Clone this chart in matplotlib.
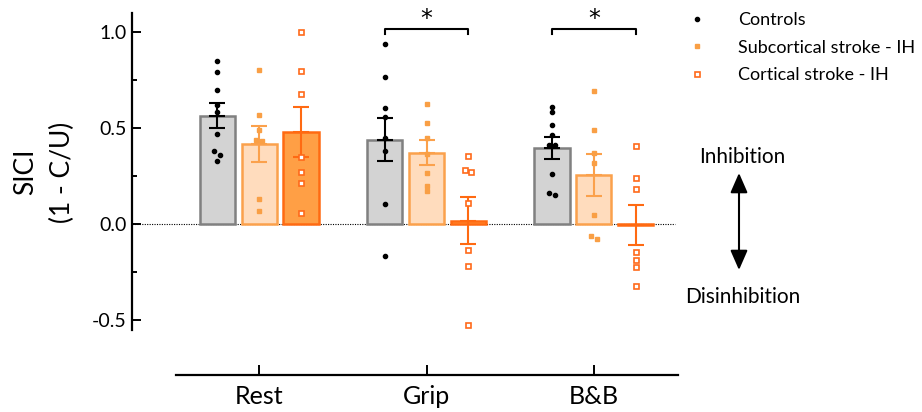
import numpy as np
import matplotlib
matplotlib.use("Agg")
import matplotlib.pyplot as plt
from matplotlib.lines import Line2D
from matplotlib.ticker import FixedLocator

plt.rcParams['font.family'] = ['Lato', 'DejaVu Sans']

conditions = ["Rest", "Grip", "B&B"]
groups = ["Controls", "Subcortical stroke - IH", "Cortical stroke - IH"]

means = {
    "Controls": [0.564, 0.439, 0.397],
    "Subcortical stroke - IH": [0.417, 0.372, 0.255],
    "Cortical stroke - IH": [0.479, 0.017, -0.004],
}
sems = {
    "Controls": [0.064, 0.111, 0.057],
    "Subcortical stroke - IH": [0.096, 0.065, 0.110],
    "Cortical stroke - IH": [0.130, 0.122, 0.105],
}
points = {
    "Controls": [
        [0.849, 0.792, 0.700, 0.620, 0.583, 0.470, 0.379, 0.359, 0.327],
        [0.936, 0.766, 0.606, 0.559, 0.446, 0.379, 0.104, -0.167],
        [0.608, 0.582, 0.516, 0.465, 0.410, 0.410, 0.260, 0.161, 0.153],
    ],
    "Subcortical stroke - IH": [
        [0.804, 0.568, 0.491, 0.440, 0.430, 0.132, 0.069],
        [0.627, 0.528, 0.446, 0.363, 0.267, 0.200, 0.174],
        [0.691, 0.488, 0.372, 0.319, 0.049, -0.061, -0.076],
    ],
    "Cortical stroke - IH": [
        [0.998, 0.799, 0.679, 0.349, 0.272, 0.212, 0.056],
        [0.352, 0.283, 0.271, 0.111, -0.135, -0.220, -0.528],
        [0.408, 0.238, 0.182, -0.148, -0.186, -0.222, -0.323],
    ],
}
sig_pairs = [(1, "*"), (2, "*")]

fill_c = {"Controls": "#d3d3d3", "Subcortical stroke - IH": "#ffdcbd",
          "Cortical stroke - IH": "#ff9f45"}
edge_c = {"Controls": "#808080", "Subcortical stroke - IH": "#fba14c",
          "Cortical stroke - IH": "#ff6a12"}
err_c = {"Controls": "black", "Subcortical stroke - IH": "#fba14c",
         "Cortical stroke - IH": "#ff6a12"}
pt_c = {"Controls": "black", "Subcortical stroke - IH": "#f99f45",
        "Cortical stroke - IH": "#ff6a1a"}

W, H = 922, 412
fig = plt.figure(figsize=(W / 100, H / 100), dpi=100)
ax_left, ax_right = 132 / W, 678 / W
ax_bottom, ax_top = (H - 375) / H, (H - 13) / H
ax = fig.add_axes([ax_left, ax_bottom, ax_right - ax_left, ax_top - ax_bottom])

xc = np.arange(len(conditions))
offs = [-0.25, 0.0, 0.25]
bw = 0.21

ax.axhline(0, xmin=0, xmax=0.995, color="black", lw=0.8, ls=(0, (1, 1.2)), zorder=1)

def jitter(vals):
    vals = np.asarray(vals)
    dx = np.zeros(len(vals))
    order = np.argsort(vals)
    i = 0
    while i < len(order) - 1:
        a, b = order[i], order[i + 1]
        if abs(vals[a] - vals[b]) < 0.025:
            dx[a] = 0.017
            dx[b] = -0.017
            i += 2
        else:
            i += 1
    return dx

for gi, g in enumerate(groups):
    x = xc + offs[gi]
    ax.bar(x, means[g], width=bw, color=fill_c[g], edgecolor=edge_c[g],
           linewidth=1.8, zorder=2)
    ax.errorbar(x, means[g], yerr=sems[g], fmt="none", ecolor=err_c[g],
                elinewidth=1.5, capsize=6, capthick=1.5, zorder=4)
    ax.plot(x, means[g], ls="none", marker="_", ms=12, mew=1.5, color=err_c[g], zorder=4)
    for ci in range(len(conditions)):
        vals = points[g][ci]
        px = x[ci] + jitter(vals)
        if g == "Controls":
            ax.plot(px, vals, ls="none", marker="o", ms=3.0, color=pt_c[g], zorder=5)
        elif g == "Subcortical stroke - IH":
            ax.plot(px, vals, ls="none", marker="s", ms=3.2, color=pt_c[g], zorder=5)
        else:
            ax.plot(px, vals, ls="none", marker="s", ms=3.6, mfc="white",
                    mec=pt_c[g], mew=1.2, zorder=5)

# significance brackets
for ci, star in sig_pairs:
    x1, x2 = xc[ci] + offs[0], xc[ci] + offs[2]
    ytop, ytip = 1.017, 0.99
    ax.plot([x1, x1, x2, x2], [ytip, ytop, ytop, ytip], color="black", lw=1.5,
            clip_on=False, zorder=6)
    ax.text((x1 + x2) / 2, 1.068, star, ha="center", va="center", fontsize=17,
            family="DejaVu Sans", clip_on=False)

ax.set_xlim(-0.76, 2.503)
ax.set_ylim(-0.786, 1.099)
ax.set_xticks(xc)
ax.set_xticklabels(conditions, fontsize=18)
ax.set_yticks([-0.5, 0.0, 0.5, 1.0])
ax.set_yticklabels(["-0.5", "0.0", "0.5", "1.0"], fontsize=14)
ax.yaxis.set_minor_locator(FixedLocator([-0.25, 0.25, 0.75]))
ax.tick_params(axis="y", which="major", direction="in", length=6.5, width=1.4, pad=4)
ax.tick_params(axis="y", which="minor", direction="in", length=3.5, width=1.4)
ax.tick_params(axis="x", which="major", direction="in", length=7, width=1.4, pad=7)
for s in ["top", "right"]:
    ax.spines[s].set_visible(False)
ax.spines["left"].set_linewidth(1.6)
ax.spines["bottom"].set_linewidth(1.6)
ax.spines["left"].set_bounds(-0.552, 1.099)
ax.spines["bottom"].set_bounds(-0.5, 2.503)

fig.text(44 / W, (H - 172) / H, "SICI\n(1 - C/U)", rotation=90, ha="center",
         va="center", fontsize=19, linespacing=1.55, multialignment="center")

# legend
handles = [
    Line2D([], [], ls="none", marker="o", ms=3.0, color=pt_c["Controls"]),
    Line2D([], [], ls="none", marker="s", ms=3.2, color=pt_c["Subcortical stroke - IH"]),
    Line2D([], [], ls="none", marker="s", ms=3.6, mfc="white",
           mec=pt_c["Cortical stroke - IH"], mew=1.2),
]
fig.legend(handles, groups, loc="upper left", bbox_to_anchor=((697 - 9) / W, (H - 12) / H),
           frameon=False, fontsize=13, handlelength=1.0, handletextpad=1.75,
           labelspacing=0.64, borderpad=0, borderaxespad=0)

# inhibition arrow
ax_x = 739 / W
fig.text(742 / W, (H - 157) / H, "Inhibition", ha="center", va="center", fontsize=15)
fig.text(743 / W, (H - 297) / H, "Disinhibition", ha="center", va="center", fontsize=15)
fig.patches.append(matplotlib.patches.FancyArrowPatch(
    (ax_x, (H - 270) / H), (ax_x, (H - 173) / H), transform=fig.transFigure,
    arrowstyle="<|-|>,head_length=0.8,head_width=0.35", mutation_scale=15,
    lw=1.5, color="black", shrinkA=0, shrinkB=0))

fig.savefig("out.png", dpi=100)
